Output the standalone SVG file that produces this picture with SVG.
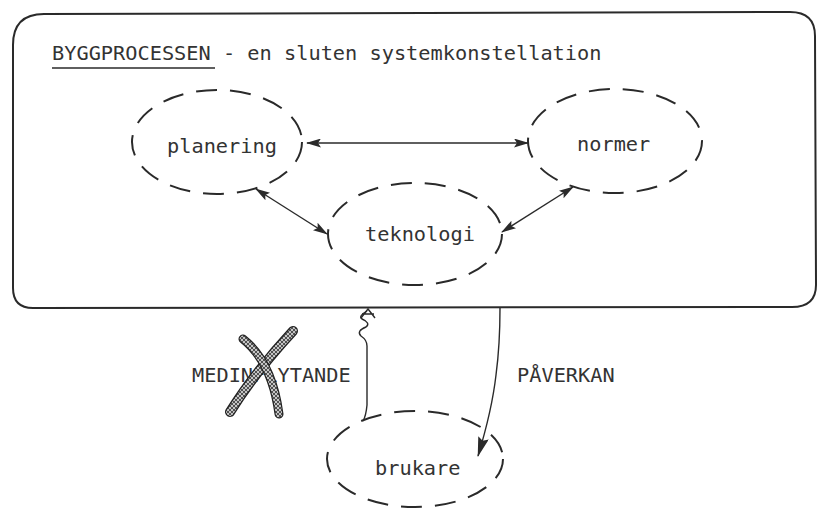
<svg xmlns="http://www.w3.org/2000/svg" width="817" height="510" viewBox="0 0 817 510">
  <defs>
    <style>
      .t { font-family: "DejaVu Sans Mono", "Liberation Mono", monospace; font-size: 20.3px; fill: #333333; }
      .node { fill: none; stroke: #2a2a2a; stroke-width: 2; stroke-dasharray: 21 13; }
      .conn { fill: none; stroke: #2a2a2a; stroke-width: 1.4; }
    </style>
    <marker id="ah" viewBox="0 0 15 9" refX="14" refY="4.5" markerWidth="15" markerHeight="9" markerUnits="userSpaceOnUse" orient="auto-start-reverse">
      <path d="M0,0 L15,4.5 L0,9 L3,4.5 Z" fill="#2a2a2a"/>
    </marker>
    <marker id="ah2" viewBox="0 0 20 11" refX="19" refY="5.5" markerWidth="20" markerHeight="11" markerUnits="userSpaceOnUse" orient="auto">
      <path d="M0,0 L20,5.5 L0,11 L3,5.5 Z" fill="#2a2a2a"/>
    </marker>
    <pattern id="hatch" patternUnits="userSpaceOnUse" width="4" height="4">
      <rect width="4" height="4" fill="#c4c4c4"/>
      <path d="M0,0 L4,4 M4,0 L0,4" stroke="#333" stroke-width="0.8"/>
    </pattern>
  </defs>
  <rect width="817" height="510" fill="#ffffff"/>

  <g id="byggprocessen">
    <path d="M13,288 L13,45 Q13,14 44,14 L790,12 Q815,12 815,36 L816,285 Q816,307 792,307 L33,308 Q13,308 13,288 Z" fill="none" stroke="#2a2a2a" stroke-width="2"/>
    <text class="t" x="52" y="60">BYGGPROCESSEN - en sluten systemkonstellation</text>
    <line x1="52" y1="68" x2="215" y2="68" stroke="#2a2a2a" stroke-width="1.4"/>
  </g>

  <g id="planering">
    <ellipse class="node" cx="217" cy="142" rx="85" ry="52"/>
    <text class="t" x="167" y="153">planering</text>
  </g>

  <g id="normer">
    <ellipse class="node" cx="615" cy="141" rx="87" ry="52"/>
    <text class="t" x="577" y="151">normer</text>
  </g>

  <g id="teknologi">
    <ellipse class="node" cx="415" cy="234" rx="87" ry="51"/>
    <text class="t" x="365" y="241">teknologi</text>
  </g>

  <g id="brukare">
    <ellipse class="node" cx="415" cy="459" rx="88" ry="48"/>
    <text class="t" x="375" y="475">brukare</text>
  </g>

  <g id="connectors">
    <line class="conn" x1="307" y1="143" x2="528" y2="143" marker-start="url(#ah)" marker-end="url(#ah)"/>
    <line class="conn" x1="256" y1="189" x2="327" y2="234" marker-start="url(#ah)" marker-end="url(#ah)"/>
    <line class="conn" x1="573" y1="187" x2="502" y2="232" marker-start="url(#ah)" marker-end="url(#ah)"/>
    <path class="conn" d="M363,421 Q366,416 367,405 L367,346 Q367,340 361,336 Q356,331 366,327 Q371,323 362,319 Q358,316 367,311" stroke-width="1.8"/>
    <path class="conn" d="M361,318 L368,309 L375,318 M362,314 L374,314" stroke-width="1.8"/>
    <path class="conn" d="M500,308 Q500,345 496,375 Q492,410 478,456" stroke-width="1.6" marker-end="url(#ah2)"/>
    <text class="t" x="192" y="382">MEDINFLYTANDE</text>
    <text class="t" x="517" y="382">PÅVERKAN</text>
  </g>

  <g id="cross">
    <path d="M230,412 Q255,372 293,331" fill="none" stroke="#222" stroke-width="10" stroke-linecap="round"/>
    <path d="M230,412 Q255,372 293,331" fill="none" stroke="url(#hatch)" stroke-width="7.5" stroke-linecap="round"/>
    <path d="M243,339 Q272,362 279,414" fill="none" stroke="#222" stroke-width="9" stroke-linecap="round"/>
    <path d="M243,339 Q272,362 279,414" fill="none" stroke="url(#hatch)" stroke-width="6.5" stroke-linecap="round"/>
  </g>
</svg>
